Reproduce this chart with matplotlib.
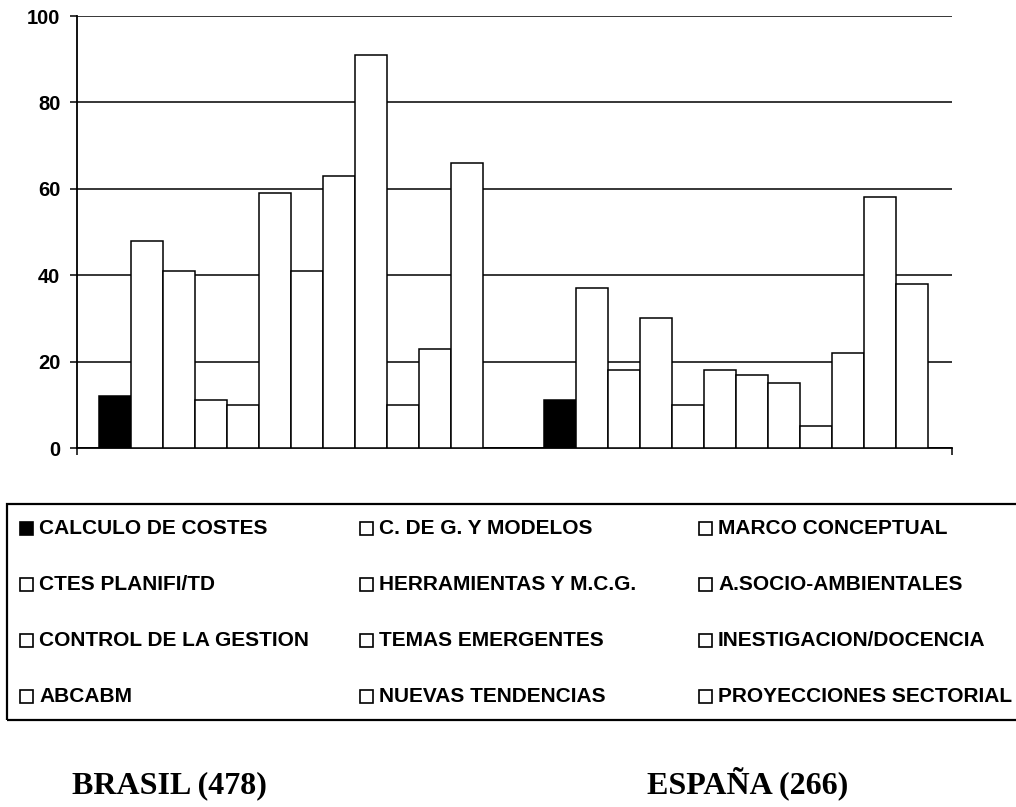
import matplotlib.pyplot as plt
from matplotlib.patches import Rectangle

# Data
countries = ["BRASIL (478)", "ESPAÑA (266)"]
topics = ["CALCULO DE COSTES", "C. DE G. Y MODELOS", "MARCO CONCEPTUAL",
          "CTES PLANIFI/TD", "HERRAMIENTAS Y M.C.G.", "A.SOCIO-AMBIENTALES",
          "CONTROL DE LA GESTION", "TEMAS EMERGENTES", "INESTIGACION/DOCENCIA",
          "ABCABM", "NUEVAS TENDENCIAS", "PROYECCIONES SECTORIAL"]
brasil = [12, 48, 41, 11, 10, 59, 41, 63, 91, 10, 23, 66]
espana = [11, 37, 18, 30, 10, 18, 17, 15, 5, 22, 58, 38]
colors = ["black"] + ["white"] * 11

W, H = 1016, 807
sans = "Liberation Sans"
serif = "Liberation Serif"

fig = plt.figure(figsize=(W / 100, H / 100), dpi=100)
ax = fig.add_axes([77 / W, 1 - 448 / H, 875 / W, 432 / H])

# One bar per topic inside each country group
bar_w = 0.0732
group_x = [-0.011, 1.007]
for i, topic in enumerate(topics):
    offset = (i - 5.5) * bar_w
    ax.bar([group_x[0] + offset, group_x[1] + offset], [brasil[i], espana[i]],
           width=bar_w, color=colors[i], edgecolor="black", linewidth=1.1,
           zorder=3)

ax.set_xlim(-0.5, 1.5)
ax.set_ylim(0, 100)
ax.set_yticks([0, 20, 40, 60, 80, 100])
ax.set_xticks([-0.5, 1.5])
ax.set_xticklabels([])
ax.yaxis.grid(True, color="black", linewidth=1.1, zorder=0)
ax.set_axisbelow(True)
ax.tick_params(axis="y", direction="out", length=5, width=1.1, pad=7,
               labelsize=14.5)
ax.tick_params(axis="x", direction="out", length=5, width=1.1)
for label in ax.get_yticklabels():
    label.set_fontfamily(sans)
    label.set_fontweight("bold")
for side in ["top", "right"]:
    ax.spines[side].set_visible(False)
for side in ["left", "bottom"]:
    ax.spines[side].set_linewidth(1.3)


def fx(px):
    return px / W


def fy(py):
    return 1 - py / H


# Legend box (runs off the right edge like the original)
fig.patches.append(Rectangle((fx(7), fy(720)), fx(1040) - fx(7), fy(504) - fy(720),
                             transform=fig.transFigure, fill=False,
                             edgecolor="black", linewidth=1.6))

col_x = [20, 360, 699]
row_y = [528, 584, 640, 696]
sq = 13
for i, topic in enumerate(topics):
    x0 = col_x[i % 3]
    y0 = row_y[i // 3]
    fig.patches.append(Rectangle((fx(x0), fy(y0 + sq / 2)), sq / W, sq / H,
                                 transform=fig.transFigure, facecolor=colors[i],
                                 edgecolor="black", linewidth=1.2))
    fig.text(fx(x0 + sq + 6), fy(y0), topic, fontsize=15, fontweight="bold",
             family=sans, va="center", ha="left")

# Country captions under the legend
fig.text(fx(72), fy(793), countries[0], fontsize=23, fontweight="bold",
         family=serif, va="baseline", ha="left")
fig.text(fx(647), fy(793), countries[1], fontsize=23, fontweight="bold",
         family=serif, va="baseline", ha="left")

fig.savefig("out.png", dpi=100)
